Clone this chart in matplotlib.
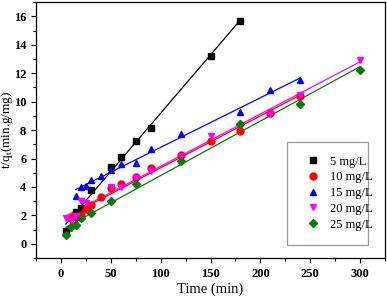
import numpy as np
import matplotlib
matplotlib.use('Agg')
import matplotlib.pyplot as plt
from matplotlib.ticker import MultipleLocator
from matplotlib.patches import Rectangle

plt.rcParams['font.family'] = ['Liberation Serif', 'DejaVu Serif']
plt.rcParams['mathtext.fontset'] = 'custom'
plt.rcParams['mathtext.rm'] = 'Liberation Serif'

# Data
t5 = [5, 15, 20, 30, 50, 60, 75, 90, 150, 180]
y5 = [0.88, 2.26, 2.5, 3.8, 5.38, 6.13, 7.2, 8.15, 13.22, 15.7]

t10 = [10, 15, 20, 25, 30, 40, 50, 60, 75, 90, 120, 150, 180, 210, 240]
y10 = [1.8, 1.9, 2.0, 2.45, 2.75, 3.3, 3.95, 4.2, 4.7, 5.3, 6.25, 7.25, 7.95, 9.2, 10.4]

t15 = [15, 20, 25, 30, 40, 50, 60, 75, 90, 120, 180, 210, 240]
y15 = [3.35, 3.98, 4.05, 4.5, 4.75, 5.2, 5.6, 5.7, 6.7, 7.7, 9.3, 10.8, 11.5]

t20 = [5, 10, 15, 20, 25, 50, 60, 75, 90, 120, 150, 180, 210, 240, 300]
y20 = [1.8, 1.6, 1.95, 3.0, 2.9, 4.0, 4.0, 4.6, 5.1, 6.2, 7.6, 8.3, 9.1, 10.5, 12.95]

t25 = [5, 10, 15, 20, 30, 50, 75, 120, 180, 240, 300]
y25 = [0.65, 1.2, 1.3, 1.85, 2.2, 3.0, 4.2, 5.85, 8.45, 9.8, 12.2]

labels = ['5 mg/L', '10 mg/L', '15 mg/L', '20 mg/L', '25 mg/L']
colors = ['black', '#ff0000', '#0000ff', '#ff00ff', '#0a7a0a']
markers = ['s', 'o', '^', 'v', 'D']
sizes = [4.5, 5, 5, 5, 4]

fig = plt.figure(figsize=(3.87, 2.99), dpi=100)
ax = fig.add_axes([0.093, 0.137, 0.902, 0.856])

series = [(t5, y5), (t10, y10), (t15, y15), (t20, y20), (t25, y25)]
for (t, y), lab, c, m, s in zip(series, labels, colors, markers, sizes):
    t = np.array(t, dtype=float)
    y = np.array(y, dtype=float)
    # linear fit line like the original
    k, b = np.polyfit(t, y, 1)
    xx = np.array([t.min(), t.max()])
    ax.plot(xx, k * xx + b, color=c, lw=0.9, zorder=2)
    ax.plot(t, y, ls='none', marker=m, ms=s, color=c, label=lab, zorder=3)

ax.set_xlim(-25, 325)
ax.set_ylim(-1, 17)
ax.xaxis.set_major_locator(MultipleLocator(50))
ax.xaxis.set_minor_locator(MultipleLocator(25))
ax.yaxis.set_major_locator(MultipleLocator(2))
ax.yaxis.set_minor_locator(MultipleLocator(1))
ax.tick_params(which='major', direction='out', length=3.5, width=0.8, labelsize=9)
ax.tick_params(which='minor', direction='out', length=2, width=0.8)
for lbl in ax.get_xticklabels() + ax.get_yticklabels():
    lbl.set_fontweight('bold')
for sp in ax.spines.values():
    sp.set_linewidth(0.9)

ax.set_xlabel('Time (min)', fontsize=10.5, labelpad=2)
ax.set_ylabel(r't/q$_\mathregular{t}$(min.g/mg)', fontsize=9.5)
ax.yaxis.set_label_coords(-0.06, 0.5)

# legend box drawn separately (gray frame, more room at the bottom)
ax.add_patch(Rectangle((0.719, 0.051), 0.232, 0.402, transform=ax.transAxes,
                       facecolor='white', edgecolor='#999999', lw=0.9, zorder=4))
leg = ax.legend(loc='upper left', bbox_to_anchor=(0.7586, 0.425), fontsize=9,
                frameon=False, borderpad=0, handlelength=1.0,
                handletextpad=0.85, labelspacing=0.3)
leg.set_zorder(5)

fig.savefig('out.png', dpi=100)
